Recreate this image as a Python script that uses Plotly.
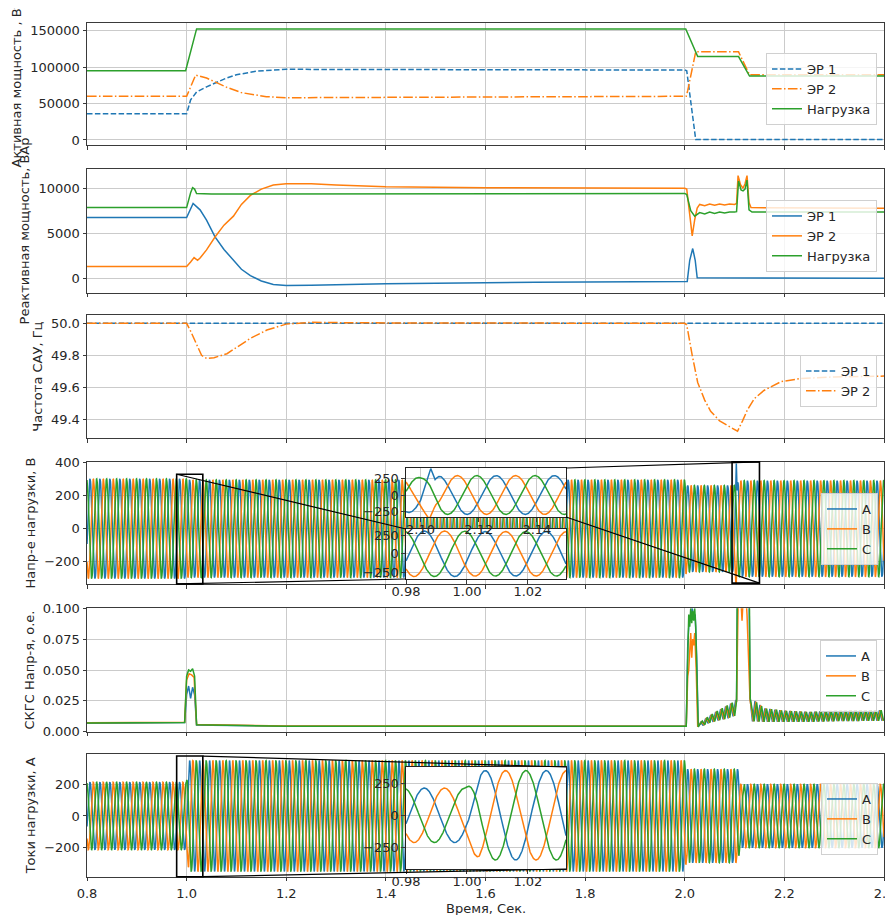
import numpy as np
import plotly.graph_objects as go

# ======================= data =======================
# Panel 1: active power, W
p_er1_t = [0.8, 1.0, 1.008, 1.02, 1.04, 1.06, 1.08, 1.10, 1.14, 1.2, 1.4, 2.0, 2.004, 2.022, 2.4]
p_er1_v = [36000, 36000, 55000, 66000, 73000, 79500, 85000, 89500, 94500, 97000, 97000, 96000, 95000, 500, 500]
p_er2_t = [0.8, 1.0, 1.018, 1.04, 1.08, 1.11, 1.16, 1.2, 1.4, 1.7, 2.0, 2.003, 2.006, 2.022, 2.108, 2.13, 2.4]
p_er2_v = [60000, 60000, 89000, 85000, 72500, 65000, 59500, 58000, 58500, 59500, 60000, 60000, 68000, 121000, 121000, 89500, 89500]
p_load_t = [0.8, 0.998, 1.02, 2.002, 2.026, 2.108, 2.13, 2.4]
p_load_v = [95000, 95000, 152500, 152500, 114500, 114500, 87800, 87800]

# Panel 2: reactive power, var
q_er1_t = [0.8, 1.0, 1.013, 1.027, 1.04, 1.057, 1.075, 1.094, 1.11, 1.128, 1.15, 1.174, 1.2, 1.25, 1.4, 1.7,
           2.0, 2.005, 2.01, 2.016, 2.021, 2.025, 2.4]
q_er1_v = [6750, 6750, 8300, 7600, 6450, 4600, 3200, 2000, 1000, 300, -300, -700, -800, -780, -600, -450,
           -370, -350, 2000, 3300, 2000, 50, 0]
q_er2_t = [0.8, 1.0, 1.008, 1.015, 1.022, 1.027, 1.04, 1.057, 1.075, 1.094, 1.11, 1.128, 1.15, 1.174, 1.2, 1.25,
           1.3, 1.4, 1.6, 2.0, 2.004, 2.01, 2.015, 2.02, 2.025, 2.03, 2.04, 2.05, 2.06, 2.07, 2.08, 2.09, 2.1,
           2.104, 2.107, 2.112, 2.117, 2.121, 2.125, 2.129, 2.133, 2.4]
q_er2_v = [1300, 1300, 1800, 2300, 2000, 2250, 3150, 4580, 5900, 6900, 8200, 9200, 9900, 10350, 10500, 10500,
           10350, 10150, 10050, 10000, 9900, 7000, 4700, 6500, 7800, 8200, 8050, 8250, 8100, 8250, 8150, 8250, 8200,
           8300, 11400, 10400, 10000, 10500, 11400, 8400, 7850, 7780]
q_load_t = [0.8, 1.0, 1.008, 1.012, 1.016, 1.02, 1.05, 1.5, 2.0, 2.004, 2.012, 2.02, 2.03, 2.04, 2.05, 2.06,
            2.07, 2.08, 2.09, 2.1, 2.104, 2.108, 2.113, 2.117, 2.121, 2.125, 2.129, 2.135, 2.4]
q_load_v = [7850, 7850, 9500, 10050, 9900, 9400, 9350, 9380, 9420, 9300, 7500, 6900, 7300, 7150, 7350, 7200,
            7350, 7250, 7350, 7350, 7400, 10800, 9800, 9700, 9900, 10900, 7600, 7350, 7350]

# Panel 3: frequency, Hz
f_er1_t = [0.8, 2.4]
f_er1_v = [50.0, 50.0]
f_er2_t = [0.8, 1.0, 1.007, 1.021, 1.03, 1.04, 1.055, 1.081, 1.1, 1.128, 1.161, 1.2, 1.25, 1.35, 2.0,
           2.004, 2.015, 2.026, 2.04, 2.052, 2.07, 2.09, 2.106, 2.116, 2.126, 2.14, 2.159, 2.193, 2.233, 2.3, 2.4]
f_er2_v = [50.0, 50.0, 49.958, 49.855, 49.80, 49.781, 49.785, 49.81, 49.85, 49.906, 49.958, 49.995, 50.006, 50.003, 50.0,
           49.99, 49.80, 49.63, 49.52, 49.45, 49.39, 49.355, 49.325, 49.39, 49.46, 49.53, 49.58, 49.635, 49.655, 49.665, 49.67]

# Panels 4 and 6: three-phase waveforms (50 Hz carrier, envelopes)
grid_freq = 50.0
a_peak_time = 0.986          # an A-phase peak seen in the insets
v_env_t = [0.8, 0.999, 1.003, 2.0, 2.004, 2.101, 2.106, 2.4]
v_env_a = [302, 302, 296, 296, 262, 262, 291, 291]
vA_dist_t = [2.1, 2.102, 2.1035, 2.105, 2.107]
vA_dist_v = [0, 120, 200, -40, 0]
vB_dist_t = [2.101, 2.103, 2.105, 2.107]
vB_dist_v = [0, -90, 60, 0]
vC_dist_t = [2.1, 2.103, 2.106]
vC_dist_v = [0, 50, 0]
i_env_t = [0.8, 0.9995, 1.004, 2.0, 2.003, 2.107, 2.111, 2.4]
i_env_a = [213, 213, 350, 350, 295, 295, 200, 200]

# Panel 5: THD of voltage, p.u.
thd_A_t = [0.8, 0.85, 0.9, 0.95, 0.996, 1.0, 1.004, 1.008, 1.012, 1.016, 1.02, 1.05, 1.1, 1.2, 1.4, 1.6, 1.8, 2.0,
           2.003, 2.006, 2.009, 2.012, 2.015, 2.018, 2.021, 2.024, 2.027]
thd_A_v = [0.0068, 0.0070, 0.0072, 0.0074, 0.0074, 0.030, 0.037, 0.027, 0.036, 0.030, 0.0055, 0.0052, 0.0048,
           0.0044, 0.0045, 0.0043, 0.0043, 0.0043, 0.0045, 0.07, 0.092, 0.09, 0.1, 0.092, 0.095, 0.06, 0.004]
thd_B_t = [0.8, 0.85, 0.9, 0.95, 0.996, 1.0, 1.005, 1.01, 1.015, 1.02, 1.05, 1.1, 1.2, 1.4, 1.6, 1.8, 2.0,
           2.003, 2.006, 2.008, 2.01, 2.012, 2.014, 2.016, 2.018, 2.02, 2.023, 2.026]
thd_B_v = [0.0072, 0.0073, 0.0075, 0.0077, 0.0076, 0.042, 0.047, 0.046, 0.044, 0.0058, 0.0055, 0.0050,
           0.0046, 0.0046, 0.0044, 0.0044, 0.0044, 0.0046, 0.045, 0.05, 0.07, 0.08, 0.06, 0.075, 0.07, 0.08, 0.05, 0.004]
thd_C_t = [0.8, 0.85, 0.9, 0.95, 0.996, 1.0, 1.004, 1.008, 1.012, 1.016, 1.02, 1.05, 1.1, 1.2, 1.4, 1.6, 1.8, 2.0,
           2.003, 2.006, 2.008, 2.01, 2.012, 2.014, 2.016, 2.018, 2.02, 2.022, 2.025, 2.027]
thd_C_v = [0.0070, 0.0071, 0.0073, 0.0075, 0.0075, 0.045, 0.050, 0.049, 0.051, 0.045, 0.0056, 0.0054, 0.0049,
           0.0045, 0.0045, 0.0043, 0.0043, 0.0043, 0.0045, 0.06, 0.095, 0.085, 0.1, 0.088, 0.098, 0.09, 0.1, 0.085, 0.04, 0.004]
thd_A_s2_t = [2.104, 2.106, 2.129, 2.131]
thd_A_s2_v = [0.026, 0.12, 0.12, 0.028]
thd_B_s2_t = [2.104, 2.107, 2.11, 2.115, 2.12, 2.125, 2.128, 2.131]
thd_B_s2_v = [0.024, 0.10, 0.13, 0.09, 0.13, 0.095, 0.06, 0.026]
thd_C_s2_t = [2.104, 2.1055, 2.1295, 2.1315]
thd_C_s2_v = [0.025, 0.12, 0.12, 0.027]
rip1_t = [2.027, 2.046, 2.066, 2.086, 2.104]
rip1_lo = [0.003, 0.0067, 0.009, 0.0107, 0.0134]
rip1_hi = [0.006, 0.012, 0.017, 0.0215, 0.0255]
rip2_t = [2.131, 2.16, 2.2, 2.25, 2.3, 2.4]
rip2_lo = [0.0085, 0.008, 0.008, 0.008, 0.0085, 0.0089]
rip2_hi = [0.028, 0.019, 0.017, 0.016, 0.017, 0.0175]
ripple_step = 0.005
ripple_offsets = [0.0, 0.0017, 0.0033]

x_ticks = [0.8, 1.0, 1.2, 1.4, 1.6, 1.8, 2.0, 2.2, 2.4]

# ======================= styling / layout =======================
BLUE, ORANGE, GREEN = '#1f77b4', '#ff7f0e', '#2ca02c'
DASH = '5.5px,2.4px'
DASHDOT = '9.6px,2.4px,1.5px,2.4px'
FONT = 'DejaVu Sans'
TXT = '#262626'

OFF = 8                      # page body margin of the browser
W, H = 893 - OFF, 915 - OFF
L, R, T, B = 87, 884, 23, 877   # plot area in screen pixels
PH = B - T
PW = R - L


def py(p):
    return (B - p) / PH


def px(p):
    return (p - L) / PW


panels = [(23.3, 145.0), (169.3, 292.7), (315.0, 438.3), (461.7, 584.3), (608.3, 731.7), (754.0, 876.7)]
ydom = [[max(0, py(b)), min(1, py(t))] for t, b in panels]
yranges = [[-6900, 160200], [-1600, 12100], [49.281, 50.052], [-337, 406], [0, 0.1], [-383, 391]]
xr = [0.8, 2.4]

ins_x = [px(406), px(566)]
ins4b_y = [py(579), py(529)]
ins4t_y = [py(517), py(468)]
ins6_y = [py(869), py(767)]
ins4b_xr, ins4b_yr = [0.98, 1.0325], [-335, 330]
ins4t_xr, ins4t_yr = [2.095, 2.15], [-330, 405]
ins6_xr, ins6_yr = [0.98, 1.0325], [-420, 378]


def three_phase(t, env_t, env_a, dists=None):
    amp = np.interp(t, env_t, env_a)
    out = []
    for k in range(3):
        s = amp * np.cos(2 * np.pi * (grid_freq * (t - a_peak_time) - k / 3.0))
        if dists is not None:
            dt, dv = dists[k]
            s = s + np.interp(t, dt, dv, left=0, right=0)
        out.append(s)
    return out


v_dists = [(vA_dist_t, vA_dist_v), (vB_dist_t, vB_dist_v), (vC_dist_t, vC_dist_v)]

fig = go.Figure()


def add(x, y, name, color, k, legend=None, dash=None, show=True):
    sfx = '' if k == 1 else str(k)
    fig.add_trace(go.Scatter(
        x=list(x), y=list(y), mode='lines', name=name,
        line=dict(color=color, width=1.5, dash=dash),
        xaxis='x' + sfx, yaxis='y' + sfx,
        legend=legend, showlegend=show, hoverinfo='skip'))


# Panel 1
add(p_er1_t, p_er1_v, 'ЭР 1', BLUE, 1, 'legend', DASH)
add(p_er2_t, p_er2_v, 'ЭР 2', ORANGE, 1, 'legend', DASHDOT)
add(p_load_t, p_load_v, 'Нагрузка', GREEN, 1, 'legend')
# Panel 2
add(q_er1_t, q_er1_v, 'ЭР 1', BLUE, 2, 'legend2')
add(q_er2_t, q_er2_v, 'ЭР 2', ORANGE, 2, 'legend2')
add(q_load_t, q_load_v, 'Нагрузка', GREEN, 2, 'legend2')
# Panel 3
add(f_er1_t, f_er1_v, 'ЭР 1', BLUE, 3, 'legend3', DASH)
add(f_er2_t, f_er2_v, 'ЭР 2', ORANGE, 3, 'legend3', DASHDOT)

phase_names = ['A', 'B', 'C']
phase_cols = [BLUE, ORANGE, GREEN]

# Panel 4 main
t_main = np.arange(0.8, 2.4 + 1e-9, 0.0005)
vm = three_phase(t_main, v_env_t, v_env_a, v_dists)
for k in range(3):
    add(t_main, vm[k], phase_names[k], phase_cols[k], 4, 'legend4')

# Panel 5
def thd_series(bt, bv, st, sv, off):
    r1 = np.arange(rip1_t[0] + off + ripple_step, rip1_t[-1], ripple_step)
    r1v = np.where(np.arange(len(r1)) % 2 == 0, np.interp(r1, rip1_t, rip1_hi), np.interp(r1, rip1_t, rip1_lo))
    r2 = np.arange(rip2_t[0] + off + ripple_step, rip2_t[-1] + 1e-9, ripple_step)
    r2v = np.where(np.arange(len(r2)) % 2 == 0, np.interp(r2, rip2_t, rip2_lo), np.interp(r2, rip2_t, rip2_hi))
    t = list(bt) + list(r1) + list(st) + list(r2)
    v = list(bv) + list(r1v) + list(sv) + list(r2v)
    return t, v

for k, (bt, bv, st, sv) in enumerate([(thd_A_t, thd_A_v, thd_A_s2_t, thd_A_s2_v),
                                      (thd_B_t, thd_B_v, thd_B_s2_t, thd_B_s2_v),
                                      (thd_C_t, thd_C_v, thd_C_s2_t, thd_C_s2_v)]):
    t, v = thd_series(bt, bv, st, sv, ripple_offsets[k])
    add(t, v, phase_names[k], phase_cols[k], 5, 'legend5')

# Panel 6 main
im = three_phase(t_main, i_env_t, i_env_a)
for k in range(3):
    add(t_main, im[k], phase_names[k], phase_cols[k], 6, 'legend6')

# Insets: 7 = panel 4 around 1.0, 8 = panel 4 around 2.1, 9 = panel 6 around 1.0
t7 = np.arange(ins4b_xr[0], ins4b_xr[1] + 1e-9, 0.0001)
v7 = three_phase(t7, v_env_t, v_env_a, v_dists)
for k in range(3):
    add(t7, v7[k], phase_names[k], phase_cols[k], 7, show=False)
t8 = np.arange(ins4t_xr[0], ins4t_xr[1] + 1e-9, 0.0001)
v8 = three_phase(t8, v_env_t, v_env_a, v_dists)
for k in range(3):
    add(t8, v8[k], phase_names[k], phase_cols[k], 8, show=False)
t9 = np.arange(ins6_xr[0], ins6_xr[1] + 1e-9, 0.0001)
i9 = three_phase(t9, i_env_t, i_env_a)
for k in range(3):
    add(t9, i9[k], phase_names[k], phase_cols[k], 9, show=False)

axis_common = dict(showgrid=True, gridcolor='#cbcbcb', gridwidth=0.8, showline=True, linecolor='#3a3a3a',
                   linewidth=1, mirror=True, ticks='outside', ticklen=3.5, tickwidth=1, tickcolor='#3a3a3a',
                   tickfont=dict(family=FONT, size=13, color=TXT), zeroline=False, fixedrange=True,
                   automargin=False, ticklabeloverflow='allow')

y_titles = ['Активная мощность , Вт', 'Реактивная мощность, ВАр', 'Частота САУ, Гц',
            'Напр-е нагрузки, В', 'СКГС Напр-я, о.е.', 'Токи нагрузки, А']
y_ticks = [[0, 50000, 100000, 150000], [0, 5000, 10000], [49.4, 49.6, 49.8, 50.0],
           [-200, 0, 200, 400], [0, 0.025, 0.05, 0.075, 0.1], [-200, 0, 200]]
y_fmt = ['d', 'd', '.1f', 'd', '.3f', 'd']

layout = dict(width=W, height=H,
              margin=dict(l=L - OFF, r=(893 - R), t=T - OFF, b=(915 - B), autoexpand=False),
              paper_bgcolor='white', plot_bgcolor='white',
              font=dict(family=FONT, size=13, color=TXT))

for i in range(6):
    sfx = '' if i == 0 else str(i + 1)
    xa = dict(axis_common, domain=[0, 1], range=xr, anchor='y' + sfx, tickvals=x_ticks, tickformat='.1f',
              showticklabels=(i == 5))
    if i == 5:
        xa['ticklabelstandoff'] = 1
    ya = dict(axis_common, domain=ydom[i], range=yranges[i], anchor='x' + sfx, tickvals=y_ticks[i],
              tickformat=y_fmt[i],
              title=dict(text=y_titles[i], font=dict(family=FONT, size=13, color=TXT), standoff=5))
    layout['xaxis' + sfx] = xa
    layout['yaxis' + sfx] = ya

inset_defs = [(7, ins4b_xr, ins4b_yr, ins4b_y, [0.98, 1.0, 1.02]),
              (8, ins4t_xr, ins4t_yr, ins4t_y, [2.10, 2.12, 2.14]),
              (9, ins6_xr, ins6_yr, ins6_y, [0.98, 1.0, 1.02])]
for n, xrr, yrr, yd, xt in inset_defs:
    layout['xaxis%d' % n] = dict(axis_common, domain=ins_x, range=xrr, anchor='y%d' % n, tickvals=xt,
                                 tickformat='.2f', linecolor='#222', linewidth=1.3, ticklabelstandoff=-3)
    layout['yaxis%d' % n] = dict(axis_common, domain=yd, range=yrr, anchor='x%d' % n,
                                 tickvals=[-250, 0, 250], tickformat='d', linecolor='#222', linewidth=1.3)

layout['annotations'] = [dict(text='Время, Сек.', xref='paper', yref='paper', x=0.5, y=py(908.5),
                              xanchor='center', yanchor='middle', showarrow=False,
                              font=dict(family=FONT, size=13, color=TXT))]


def legend_cfg(right_px, top_px):
    return dict(x=px(right_px), y=py(top_px), xanchor='right', yanchor='top',
                bgcolor='rgba(255,255,255,0.8)', bordercolor='#d0d0d0', borderwidth=1,
                font=dict(family=FONT, size=13, color=TXT), itemwidth=30, tracegroupgap=0)

layout['legend'] = legend_cfg(877, 53)
layout['legend2'] = legend_cfg(877, 200)
layout['legend3'] = legend_cfg(877, 355)
layout['legend4'] = legend_cfg(878, 493)
layout['legend5'] = legend_cfg(877, 640)
layout['legend6'] = legend_cfg(878, 783)


def to_paper(xv, yv, pidx):
    xp = (xv - xr[0]) / (xr[1] - xr[0])
    r0, r1 = yranges[pidx]
    d0, d1 = ydom[pidx]
    yv = min(max(yv, r0), r1)
    return xp, d0 + (yv - r0) / (r1 - r0) * (d1 - d0)


shapes = []
box_line = dict(color='black', width=1.6)
for xrr, yrr, pidx in [(ins4b_xr, ins4b_yr, 3), (ins4t_xr, ins4t_yr, 3), (ins6_xr, ins6_yr, 5)]:
    x0, y0 = to_paper(xrr[0], yrr[0], pidx)
    x1, y1 = to_paper(xrr[1], yrr[1], pidx)
    shapes.append(dict(type='rect', xref='paper', yref='paper', x0=x0, y0=y0, x1=x1, y1=y1,
                       line=box_line, fillcolor='rgba(0,0,0,0)'))

conn = dict(color='black', width=1.2)
# panel 4, inset near 1.0: upper-left & lower-left corners
for (bx, by), (ix, iy) in [((ins4b_xr[0], ins4b_yr[1]), (ins_x[0], ins4b_y[1])),
                           ((ins4b_xr[0], ins4b_yr[0]), (ins_x[0], ins4b_y[0]))]:
    x0, y0 = to_paper(bx, by, 3)
    shapes.append(dict(type='line', xref='paper', yref='paper', x0=x0, y0=y0, x1=ix, y1=iy, line=conn))
# panel 4, inset near 2.1: upper-right & lower-right corners
for (bx, by), (ix, iy) in [((ins4t_xr[1], ins4t_yr[1]), (ins_x[1], ins4t_y[1])),
                           ((ins4t_xr[1], ins4t_yr[0]), (ins_x[1], ins4t_y[0]))]:
    x0, y0 = to_paper(bx, by, 3)
    shapes.append(dict(type='line', xref='paper', yref='paper', x0=x0, y0=y0, x1=ix, y1=iy, line=conn))
# panel 6 inset: upper-right & lower-right corners
for (bx, by), (ix, iy) in [((ins6_xr[1], ins6_yr[1]), (ins_x[1], ins6_y[1])),
                           ((ins6_xr[1], ins6_yr[0]), (ins_x[1], ins6_y[0]))]:
    x0, y0 = to_paper(bx, by, 5)
    shapes.append(dict(type='line', xref='paper', yref='paper', x0=x0, y0=y0, x1=ix, y1=iy, line=conn))

layout['shapes'] = shapes
fig.update_layout(**layout)
fig.write_html('out.html')
